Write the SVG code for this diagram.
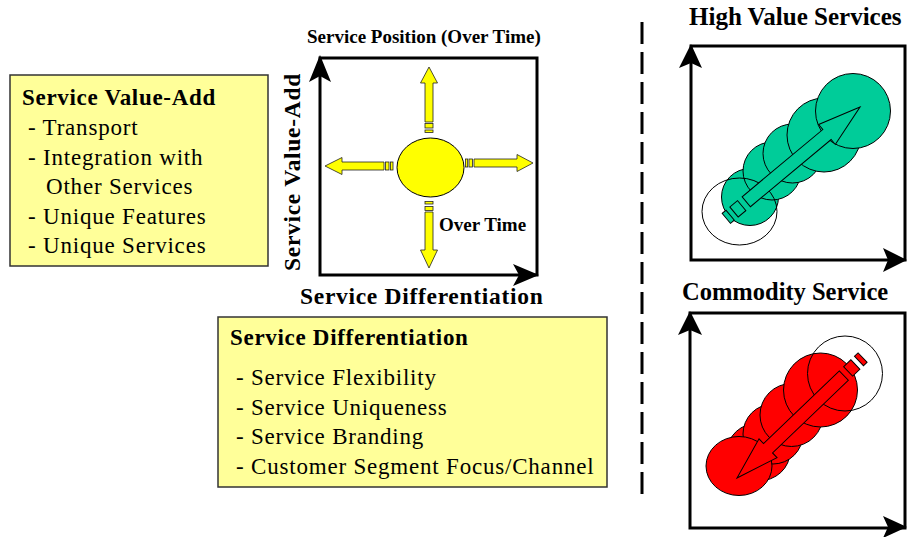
<svg xmlns="http://www.w3.org/2000/svg" xmlns:xlink="http://www.w3.org/1999/xlink" width="907" height="537" viewBox="0 0 907 537">
  <style>
    text { font-family: "Liberation Serif", "Times New Roman", serif; fill: #000; }
    .title { font-weight: bold; font-size: 23px; letter-spacing: 0.7px; }
    .item { font-size: 23px; letter-spacing: 0.8px; }
    .head { font-weight: bold; font-size: 24.5px; }
    .small { font-weight: bold; font-size: 19px; }
    .note { fill: #FFFF99; stroke: #333; stroke-width: 1.5; }
    .frame { fill: #fff; stroke: #000; stroke-width: 3; }
    .axishead { fill: #000; }
    .ya { fill: #FFFF00; stroke: #222; stroke-width: 0.8; }
    .disc { stroke: #000; stroke-width: 1; }
    .ring { fill: none; stroke: #000; stroke-width: 1; }
    .green { fill: #00CC99; }
    .red { fill: #FF0000; }
  </style>
  <defs>
    <!-- striped block arrow, tip at origin, body along -x -->
    <g id="stripedArrow" stroke="#000" stroke-width="1">
      <path d="M0,0 L-43,-13 L-43,-6.5 L-148,-6.5 L-148,6.5 L-43,6.5 L-43,13 Z"/>
      <rect x="-164" y="-6.5" width="10" height="13"/>
      <rect x="-174" y="-6.5" width="5" height="13"/>
    </g>
  </defs>

  <rect width="907" height="537" fill="#fff"/>

  <!-- Service Value-Add box -->
  <g id="value-add-box">
    <rect class="note" x="10" y="75" width="258" height="191"/>
    <text class="title" x="22" y="105">Service Value-Add</text>
    <text class="item" x="28" y="135">- Transport</text>
    <text class="item" x="28" y="164.5">- Integration with</text>
    <text class="item" x="46" y="194">Other Services</text>
    <text class="item" x="28" y="223.5">- Unique Features</text>
    <text class="item" x="28" y="253">- Unique Services</text>
  </g>

  <!-- Service Differentiation box -->
  <g id="differentiation-box">
    <rect class="note" x="218" y="317" width="389" height="170"/>
    <text class="title" x="230" y="345">Service Differentiation</text>
    <text class="item" x="236" y="385">- Service Flexibility</text>
    <text class="item" x="236" y="415">- Service Uniqueness</text>
    <text class="item" x="236" y="444">- Service Branding</text>
    <text class="item" x="236" y="474">- Customer Segment Focus/Channel</text>
  </g>

  <!-- Service position chart -->
  <g id="position-chart">
    <text class="small" x="307" y="43">Service Position (Over Time)</text>
    <rect class="frame" x="320" y="58" width="217" height="217"/>
    <path class="axishead" d="M320,55 L331,82 L320,76 L309,82 Z"/>
    <path class="axishead" d="M539,275 L513,286 L519,275 L513,264 Z"/>
    <text class="title" transform="translate(300,172) rotate(-90)" text-anchor="middle" style="font-size:23.5px">Service Value-Add</text>
    <text class="title" x="300" y="304" style="font-size:23.5px">Service Differentiation</text>
    <ellipse cx="430.5" cy="167.5" rx="33.5" ry="29.5" fill="#FFFF00" stroke="#000" stroke-width="1"/>
    <text class="small" x="439" y="231">Over Time</text>
  </g>

  <!-- movement arrows around the current position -->
  <g id="connectors">
    <g id="arrow-up">
      <path class="ya" d="M429,67 L437.5,83 L433,83 L433,122 L425,122 L425,83 L420.5,83 Z"/>
      <rect class="ya" x="425" y="123.5" width="8" height="4.5"/>
      <rect class="ya" x="425" y="130" width="8" height="2.5"/>
    </g>
    <g id="arrow-down">
      <path class="ya" d="M429,268 L437.5,250 L433,250 L433,212 L425,212 L425,250 L420.5,250 Z"/>
      <rect class="ya" x="425" y="206.5" width="8" height="4"/>
      <rect class="ya" x="425" y="201.5" width="8" height="2.5"/>
    </g>
    <g id="arrow-left">
      <path class="ya" d="M325,166 L342,157.5 L342,162 L384,162 L384,170 L342,170 L342,174.5 Z"/>
      <rect class="ya" x="385.5" y="162" width="3.5" height="8"/>
      <rect class="ya" x="390.5" y="162" width="2.5" height="8"/>
    </g>
    <g id="arrow-right">
      <path class="ya" d="M533,163 L517,154.5 L517,159 L474,159 L474,167 L517,167 L517,171.5 Z"/>
      <rect class="ya" x="469" y="159" width="3.5" height="8"/>
      <rect class="ya" x="465.5" y="159" width="2.2" height="8"/>
    </g>
  </g>

  <!-- divider -->
  <line id="divider" x1="642" y1="22" x2="642" y2="494" stroke="#000" stroke-width="3" stroke-dasharray="22 8"/>

  <!-- High value services chart -->
  <g id="high-value-chart">
    <text class="head" x="689" y="25" style="font-size:25px">High Value Services</text>
    <rect class="frame" x="691" y="46" width="214" height="214"/>
    <path class="axishead" d="M691,44 L702,68 L691,63 L679,68 Z"/>
    <path class="axishead" d="M907,260 L883,272 L888,260 L883,248 Z"/>
    <circle class="disc green" cx="750" cy="197" r="28.5"/>
    <circle class="disc green" cx="772" cy="171" r="29"/>
    <circle class="disc green" cx="792.5" cy="153.5" r="29.5"/>
    <circle class="disc green" cx="824" cy="135" r="37"/>
    <circle class="disc green" cx="853" cy="111" r="37.5"/>
    <ellipse class="ring" cx="739.5" cy="211.5" rx="37.5" ry="33.5"/>
    <use xlink:href="#stripedArrow" href="#stripedArrow" fill="#00CC99" transform="translate(860,107) rotate(-39.8)"/>
  </g>

  <!-- Commodity service chart -->
  <g id="commodity-chart">
    <text class="head" x="682" y="300">Commodity Service</text>
    <rect class="frame" x="690" y="313" width="215" height="215"/>
    <path class="axishead" d="M690,311 L702,335 L690,330 L678,335 Z"/>
    <path class="axishead" d="M907,527 L883,538 L888,527 L883,516 Z"/>
    <ellipse class="disc red" cx="758.5" cy="452" rx="31.5" ry="29"/>
    <circle class="disc red" cx="773" cy="434" r="30"/>
    <circle class="disc red" cx="791.5" cy="415" r="31.5"/>
    <circle class="disc red" cx="820.5" cy="390" r="37"/>
    <ellipse class="disc red" cx="739" cy="466" rx="33" ry="29.5"/>
    <circle class="ring" cx="845" cy="373.5" r="37.5"/>
    <use xlink:href="#stripedArrow" href="#stripedArrow" fill="#FF0000" transform="translate(737,478) rotate(136.2)"/>
  </g>
</svg>
